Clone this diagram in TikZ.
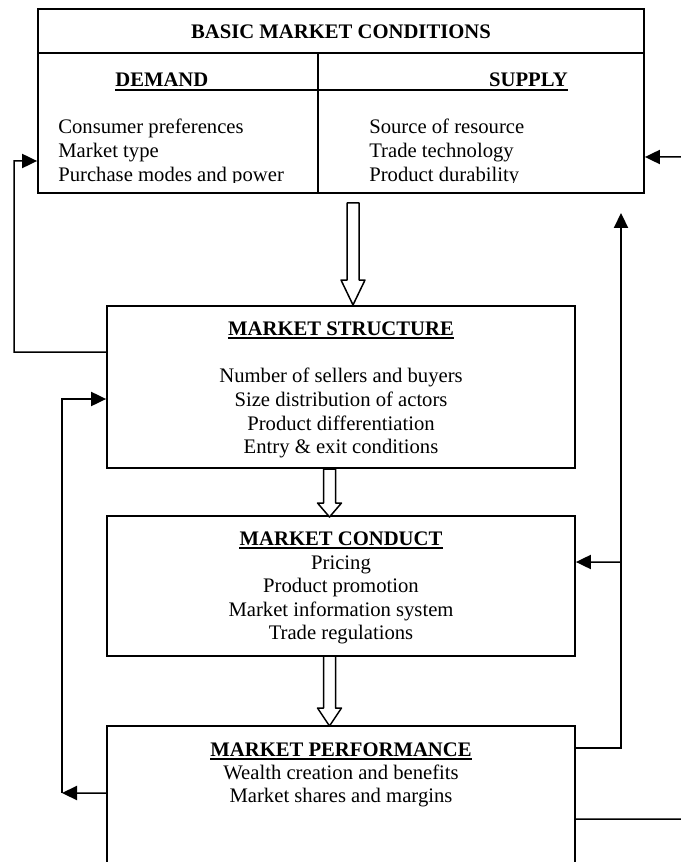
\documentclass[tikz,border=0pt]{standalone}
\usepackage{fontspec}
\setmainfont{Liberation Serif}
\usetikzlibrary{arrows.meta}

\tikzset{
  box/.style={draw, line width=1.1pt, inner sep=0pt},
  txt/.style={inner sep=0pt, font=\fontsize{12.4}{14}\selectfont},
  ttl/.style={inner sep=0pt, font=\fontsize{12.4}{14}\selectfont\bfseries},
  uline/.style={line width=1.1pt},
  conn/.style={line width=0.9pt, -{Triangle[length=9pt,width=8.5pt]}},
  hollow/.style={draw, line width=0.9pt, fill=white, line join=round}
}

\begin{document}
\begin{tikzpicture}[x=0.6pt, y=-0.6pt]
      \useasboundingbox (0,0) rectangle (680,862);

      \node[box, minimum width=363.6pt, minimum height=110.4pt] (bmc) at (341,101) {};
      \node[box, minimum width=280.8pt, minimum height=97.2pt] (struct) at (341,387) {};
      \node[box, minimum width=280.8pt, minimum height=84pt] (cond) at (341,586) {};
      \node[box, minimum width=280.8pt, minimum height=92.4pt] (perf) at (341,803) {};
      \draw[line width=1.1pt] (38,53) -- (644,53);
      \draw[line width=1.1pt] (318,53) -- (318,193);

      \node[ttl, anchor=base] (bmct) at (341,39) {BASIC MARKET CONDITIONS};
      \node[ttl, anchor=base west] (dem) at (115,87) {DEMAND};
      \node[ttl, anchor=base east] (sup) at (568,87) {SUPPLY};
      \draw[uline] ([yshift=-1.8pt]dem.base west) -- ([yshift=-1.8pt]sup.base east);
      \begin{scope}
        \clip (38,53) rectangle (644,183);
        \foreach \t [count=\i] in {Consumer preferences, Market type, Purchase modes and power}
          \node[txt, anchor=base west] (dm\i) at (58,{110+24*\i}) {\t};
        \foreach \t [count=\i] in {Source of resource, Trade technology, Product durability}
          \node[txt, anchor=base west] (sp\i) at (369,{110+24*\i}) {\t};
      \end{scope}

      \node[ttl, anchor=base] (mst) at (341,335) {MARKET STRUCTURE};
      \draw[uline] ([yshift=-2pt]mst.base west) -- ([yshift=-2pt]mst.base east);
      \foreach \t [count=\i] in {Number of sellers and buyers, Size distribution of actors, Product differentiation, Entry \& exit conditions}
        \node[txt, anchor=base] (st\i) at (341,{359+23.7*\i}) {\t};

      \node[ttl, anchor=base] (mcd) at (341,545) {MARKET CONDUCT};
      \draw[uline] ([yshift=-2pt]mcd.base west) -- ([yshift=-2pt]mcd.base east);
      \foreach \t [count=\i] in {Pricing, Product promotion, Market information system, Trade regulations}
        \node[txt, anchor=base] (cd\i) at (341,{545.5+23.6*\i}) {\t};

      \node[ttl, anchor=base] (mpf) at (341,756) {MARKET PERFORMANCE};
      \draw[uline] ([yshift=-2pt]mpf.base west) -- ([yshift=-2pt]mpf.base east);
      \foreach \t [count=\i] in {Wealth creation and benefits, Market shares and margins}
        \node[txt, anchor=base] (pf\i) at (341,{755.5+23.7*\i}) {\t};

      \foreach \x/\ya/\yb/\yc in {353/203/280/305, 329.5/469/503/517, 329.5/656/708/726}
        \draw[hollow] (\x-6,\ya) -- (\x+6,\ya) -- (\x+6,\yb) -- (\x+12,\yb) -- (\x,\yc)
          -- (\x-12,\yb) -- (\x-6,\yb) -- cycle;

      \coordinate (uptip) at (621,213);
      \draw[conn] ([yshift=21pt]struct.west) -| (14,161) -- ([yshift=-36pt]bmc.west);
      \draw[conn] ([yshift=6pt]perf.west) -- (62,793);
      \draw[conn] (62,793) |- ([yshift=-7.2pt]struct.west);
      \draw[conn] ([yshift=33pt]perf.east) -| (uptip);
      \draw[conn] (621,562) -- ([yshift=14.4pt]cond.east);
      \draw[conn] ([yshift=-9.6pt]perf.east) -| (684,157) -- ([yshift=-33.6pt]bmc.east);
    \end{tikzpicture}
\end{document}
